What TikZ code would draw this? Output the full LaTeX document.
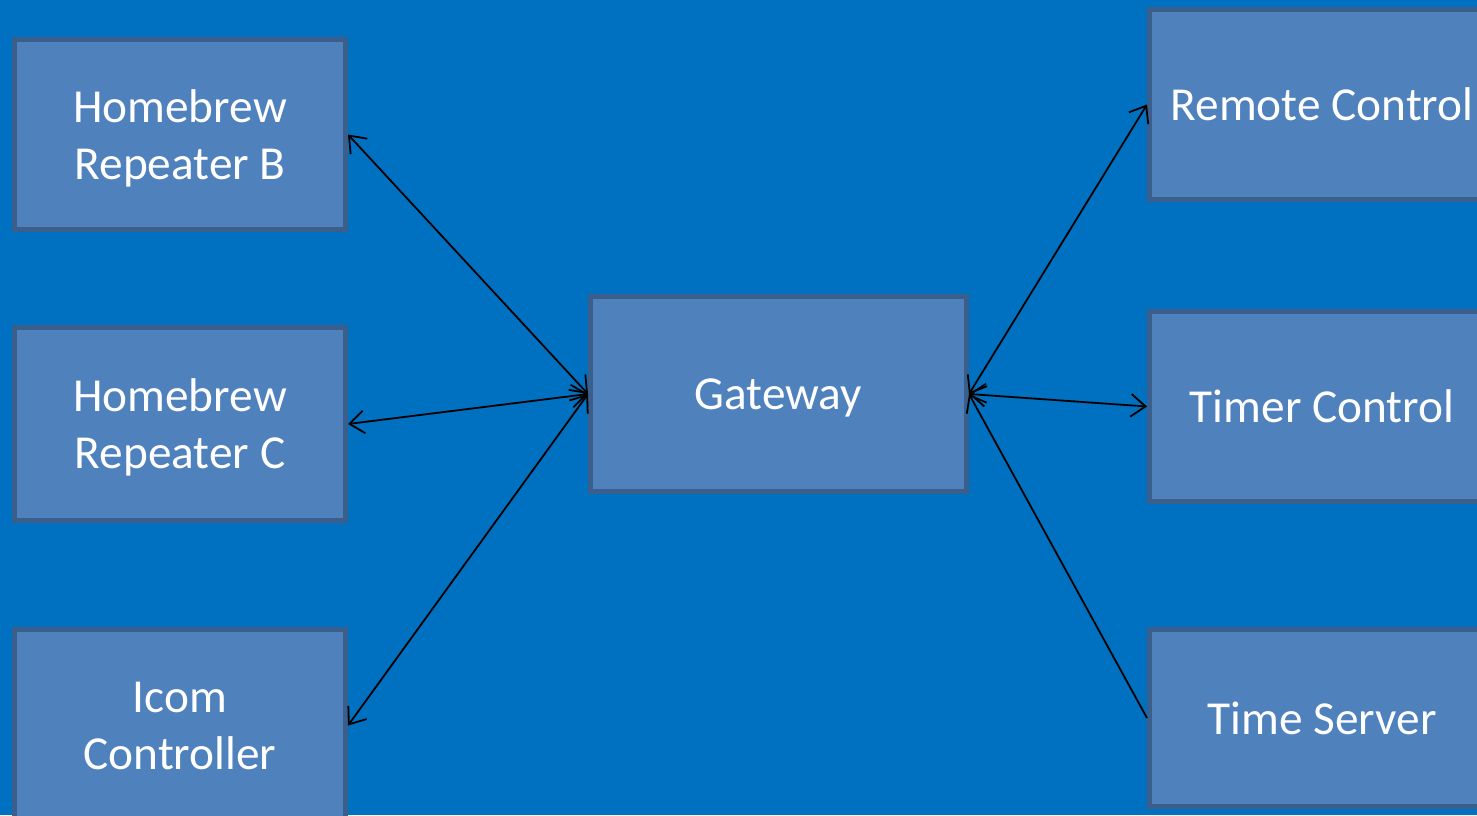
\documentclass[tikz,border=0pt]{standalone}
\usepackage{fontspec}
\setmainfont{Carlito}
\usetikzlibrary{arrows.meta}
\definecolor{bgblue}{HTML}{0070C0}
\definecolor{boxfill}{HTML}{4F81BD}
\definecolor{boxline}{HTML}{3A5F8C}
\tikzset{
  box/.style={draw=boxline, fill=boxfill, line width=3.75pt, text=white, align=center,
    font=\fontsize{35.5}{42.75}\selectfont, inner sep=0pt, outer sep=0.5\pgflinewidth, text depth=0pt},
  link/.style={draw=black, line width=1.35pt},
  tip/.tip={Straight Barb[length=11pt,width=17pt,line width=1.35pt]}
}
\begin{document}
\begin{tikzpicture}[x=0.75pt,y=-0.75pt]
\useasboundingbox (0,0) rectangle (1477,815);
\clip (0,0) rectangle (1477,815);
\fill[bgblue] (0,0) rectangle (1477,815);
\node[box, minimum width=248.25pt, minimum height=142.5pt] (hb) at (180,134.5) {Homebrew\\Repeater B};
\node[box, minimum width=248.25pt, minimum height=144.75pt] (hc) at (180,424) {Homebrew\\Repeater C};
\node[box, minimum width=248.25pt, minimum height=144pt] (ic) at (180,725.5) {Icom\\Controller};
\node[box, minimum width=282pt, minimum height=146.25pt] (gw) at (778.5,394) {Gateway};
\node[box, minimum width=258.75pt, minimum height=142.5pt] (rc) at (1322,104.5) {Remote Control};
\node[box, minimum width=258.75pt, minimum height=142.5pt] (tc) at (1322,406.5) {Timer Control};
\node[box, minimum width=258.75pt, minimum height=132.75pt] (ts) at (1322,718) {Time Server};
\draw[link, {tip}-{tip}] (hb.east) -- (gw.west);
\draw[link, {tip}-{tip}] (hc.east) -- (gw.west);
\draw[link, {tip}-{tip}] (ic.east) -- (gw.west);
\draw[link, {tip}-{tip}] (gw.east) -- (rc.west);
\draw[link, {tip}-{tip}] (gw.east) -- (tc.west);
\draw[link, -{tip}] (ts.west) -- (gw.east);
\end{tikzpicture}
\end{document}
